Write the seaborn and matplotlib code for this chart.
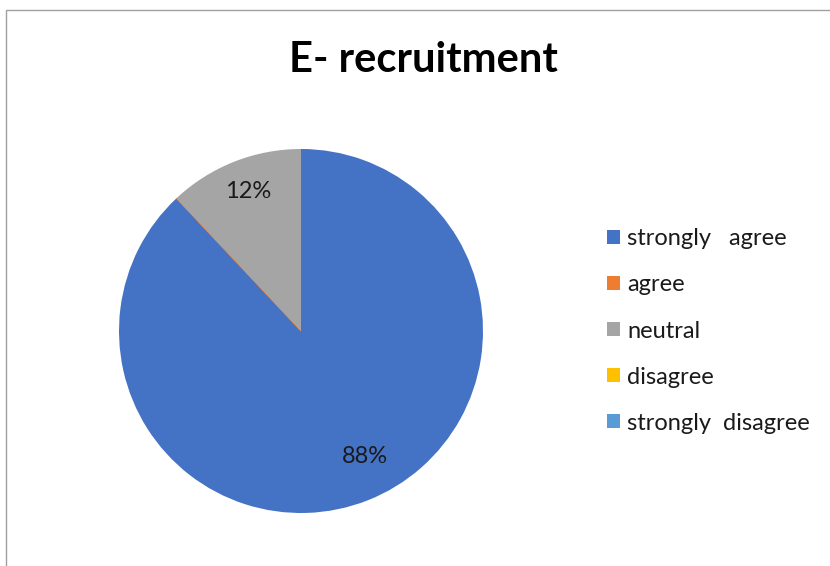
import matplotlib
matplotlib.use("Agg")
import matplotlib.pyplot as plt
from matplotlib.patches import Rectangle, Patch
import seaborn as sns

# Survey responses for E-recruitment (percent of respondents)
categories = ["strongly   agree", "agree", "neutral", "disagree", "strongly  disagree"]
shares = [88, 0, 12, 0, 0]
colors = ["#4472C4", "#ED7D31", "#A5A5A5", "#FFC000", "#5B9BD5"]
title = "E- recruitment"

sns.set_theme(style="white")
plt.rcParams["font.family"] = ["Lato", "DejaVu Sans"]

fig = plt.figure(figsize=(8.3, 5.66), dpi=100)
fig.patch.set_facecolor("white")

# chart frame (continues past the right and bottom edges)
fig.patches.append(Rectangle((6 / 830, -0.05), 1.2, 1 - 10 / 566 + 0.05,
                             transform=fig.transFigure, fill=False,
                             edgecolor="#A0A0A0", linewidth=1.0))

ax = fig.add_axes([119 / 830, 53 / 566, 364 / 830, 364 / 566])
wedges, _ = ax.pie(shares, colors=colors, startangle=90, counterclock=False,
                   radius=1.0, wedgeprops=dict(linewidth=0))
# zero-width slice still shows as a hairline at its boundary
wedges[1].set_edgecolor(colors[1])
wedges[1].set_linewidth(0.8)
ax.set_xlim(-1, 1)
ax.set_ylim(-1, 1)
ax.set_aspect("equal")
ax.axis("off")

# percentage labels for non-empty slices
label_pos = {0: (0.35, -0.69), 2: (-0.29, 0.765)}
for i, (x, y) in label_pos.items():
    ax.text(x, y, f"{shares[i]}%", ha="center", va="center", fontsize=17,
            color="#1a1a1a")

fig.text(423 / 830, 1 - 60 / 566, title, ha="center", va="center",
         fontsize=30, fontweight="bold", color="black")

handles = [Patch(facecolor=c, edgecolor="none") for c in colors]
fig.legend(handles, categories, loc="center left",
           bbox_to_anchor=(586 / 830, 1 - 331 / 566), frameon=False,
           fontsize=17, handlelength=0.55, handleheight=0.55,
           handletextpad=0.3, labelspacing=1.06, labelcolor="#1a1a1a")

fig.savefig("out.png", dpi=100, facecolor="white")
